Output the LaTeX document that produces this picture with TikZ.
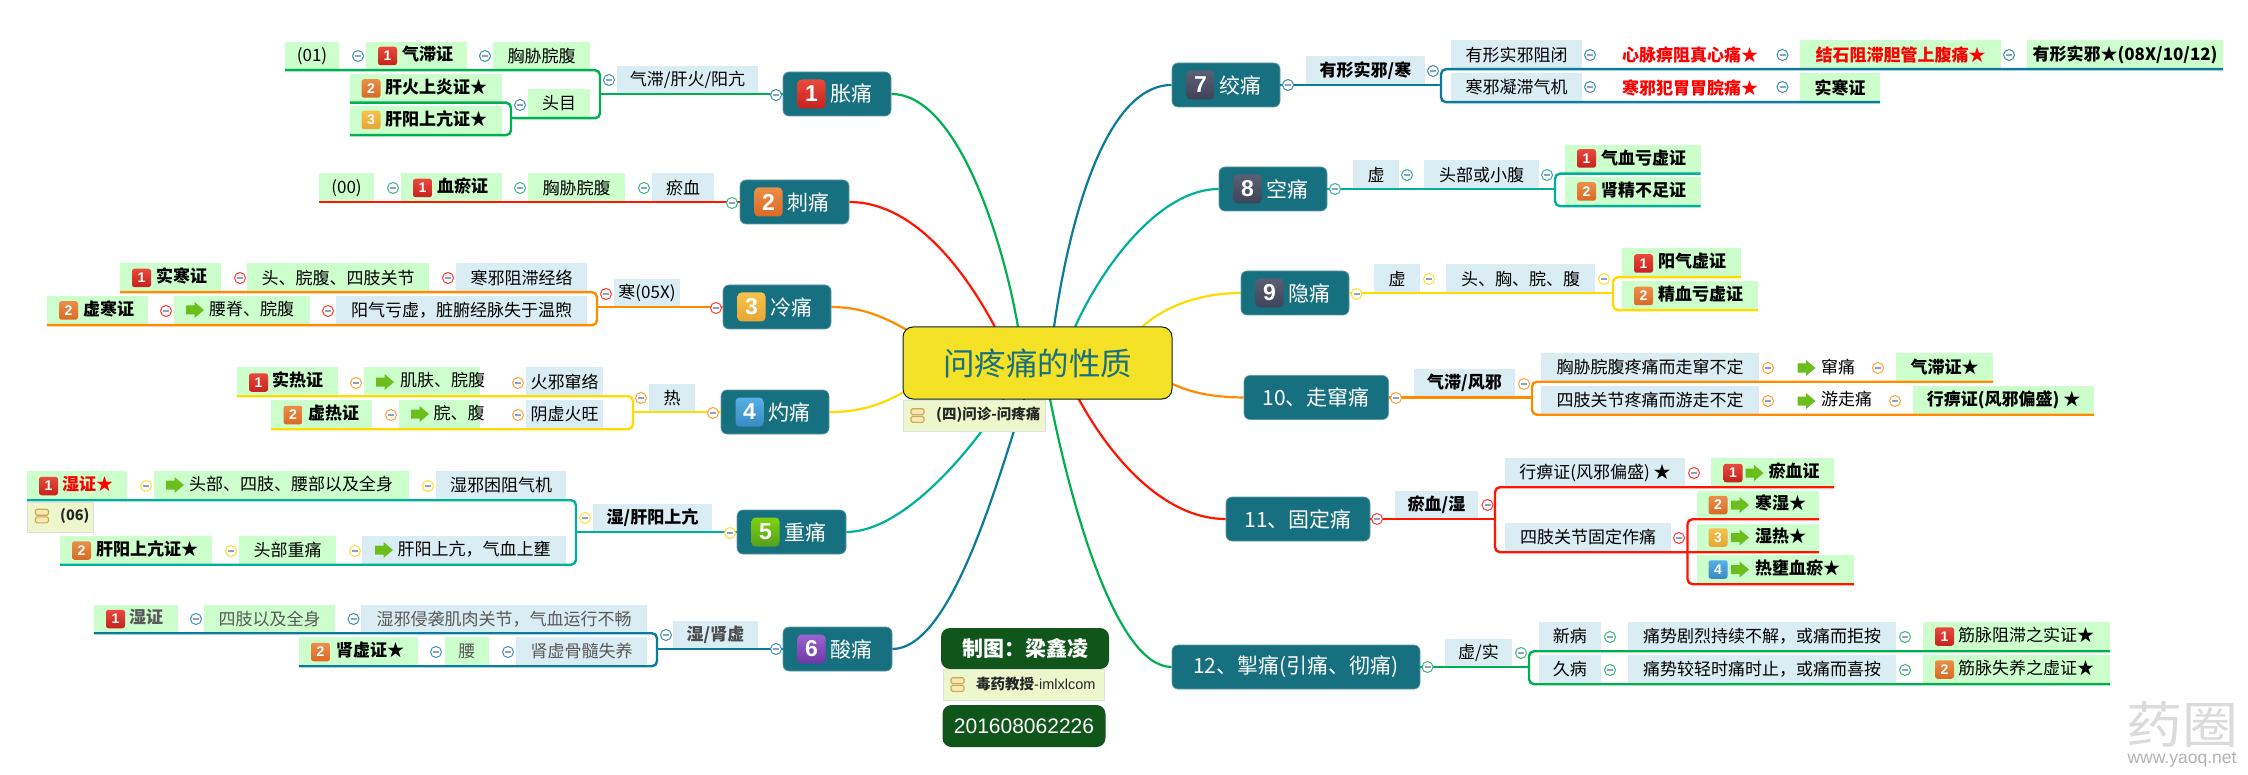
\documentclass[tikz,border=0pt]{standalone}
\usepackage{fontspec}
\setmainfont{Noto Sans CJK SC}
\newfontfamily\lib{Liberation Sans}
\definecolor{cGreen}{HTML}{00B050}
\definecolor{cRed}{HTML}{FF1500}
\definecolor{cOrange}{HTML}{FF8C00}
\definecolor{cYellow}{HTML}{FFDB00}
\definecolor{cTeal}{HTML}{00B09A}
\definecolor{cBlue}{HTML}{0A7C9A}
\definecolor{cTopic}{HTML}{17707F}
\definecolor{cDark}{HTML}{10561A}
\definecolor{cLeafG}{HTML}{CCFFCC}
\definecolor{cLeafB}{HTML}{DAEDF4}
\definecolor{cNote}{HTML}{EEF7CC}
\definecolor{cRoot}{HTML}{F5E125}
\definecolor{mGreen}{HTML}{35B878}
\definecolor{mRed}{HTML}{FF3B30}
\definecolor{mOrange}{HTML}{FFA030}
\definecolor{mYellow}{HTML}{FFDD30}
\definecolor{mTeal}{HTML}{30B0A0}
\definecolor{mBlue}{HTML}{3A8FAE}
\definecolor{tGray}{HTML}{595959}
\definecolor{iconFill}{HTML}{FBE7B0}
\definecolor{iconLine}{HTML}{C8A85A}
\definecolor{arrowGreen}{HTML}{6CBE1E}
\definecolor{minusBar}{HTML}{8FA0C4}
\definecolor{redA}{HTML}{E84A3C}\definecolor{redB}{HTML}{C8211E}
\definecolor{oraA}{HTML}{EB8E49}\definecolor{oraB}{HTML}{D96A26}
\definecolor{yelA}{HTML}{F4C24C}\definecolor{yelB}{HTML}{E9A633}
\definecolor{bluA}{HTML}{58AEE5}\definecolor{bluB}{HTML}{3A8AC4}
\definecolor{greA}{HTML}{7CD40C}\definecolor{greB}{HTML}{559E1F}
\definecolor{purA}{HTML}{9A63CF}\definecolor{purB}{HTML}{6F38A5}
\definecolor{graA}{HTML}{5B6074}\definecolor{graB}{HTML}{3F4358}
\pgfdeclarelayer{bg}
\pgfsetlayers{bg,main}
\newcommand{\lf}{\fontsize{17}{18}\selectfont}
\newcommand{\B}{\bfseries}
\tikzset{
  boxbase/.style={inner sep=0pt,font=\lf,text=black},
  lg/.style={fill=cLeafG},
  lb/.style={fill=cLeafB},
  ln/.style={},
  txt/.style={inner sep=0pt,font=\lf,text=black,anchor=west},
  br/.style={draw=#1,line width=2.4pt,rounded corners=5pt},
  curve/.style={draw=#1,line width=2.2pt},
  badge/.style n args={2}{rounded corners=2.5pt,inner sep=0pt,top color=#1,bottom color=#2,text=white,font=\lib\bfseries\fontsize{14}{14}\selectfont,minimum width=19pt,minimum height=18.5pt},
  bigbadge/.style n args={2}{rounded corners=4pt,inner sep=0pt,top color=#1,bottom color=#2,text=white,font=\lib\bfseries\fontsize{23}{23}\selectfont,minimum width=28pt,minimum height=29pt},
  b1/.style={badge={redA}{redB}},
  b2/.style={badge={oraA}{oraB}},
  b3/.style={badge={yelA}{yelB}},
  b4/.style={badge={bluA}{bluB}},
  B1/.style={bigbadge={redA}{redB}},
  B2/.style={bigbadge={oraA}{oraB}},
  B3/.style={bigbadge={yelA}{yelB}},
  B4/.style={bigbadge={bluA}{bluB}},
  B5/.style={bigbadge={greA}{greB}},
  B6/.style={bigbadge={purA}{purB}},
  B7/.style={bigbadge={graA}{graB}},
  topicbox/.style={fill=cTopic,draw=cTopic!70!white,line width=.6pt,rounded corners=6pt,inner sep=0pt,text=white,font=\fontsize{21}{23}\selectfont},
  darkbox/.style={fill=cDark,rounded corners=9pt,inner sep=0pt,text=white},
  notebox/.style={fill=cNote,draw=black!12,line width=.8pt,inner sep=0pt,text=black!85,font=\bfseries\fontsize{14.5}{16}\selectfont},
  nicon/.style={fill=iconFill,draw=iconLine,line width=1.1pt,rounded corners=1.5pt,minimum width=13pt,minimum height=6pt,inner sep=0pt},
  mncirc/.style={circle,fill=white,line width=1pt,minimum size=11pt,inner sep=0pt,
    path picture={\fill[minusBar] ([xshift=-3pt,yshift=-.7pt]path picture bounding box.center) rectangle ([xshift=3pt,yshift=.7pt]path picture bounding box.center);}},
}
\newcounter{mc}
% plain box with centred text: name x1 y1 x2 y2 style text
\newcommand{\bx}[7]{\node[boxbase,#6,minimum width={(#4-#2)*1pt},minimum height={(#5-#3)*1pt}] (#1) at ({(#2+#4)/2},{(#3+#5)/2}) {\raisebox{1.5pt}{#7}};}
% box with text at a given left edge: name x1 y1 x2 y2 style textleft text
\newcommand{\bxl}[8]{\node[boxbase,#6,minimum width={(#4-#2)*1pt},minimum height={(#5-#3)*1pt}] (#1) at ({(#2+#4)/2},{(#3+#5)/2}) {};
  \node[txt] (#1t) at (#7,{(#3+#5)/2-1.5}) {#8};}
% badge: name centre-x centre-y style number
\newcommand{\bdg}[5]{\node[#4] (#1) at (#2,#3) {#5};}
% block arrow icon: name left-x centre-y
\newcommand{\arr}[3]{\coordinate (#1) at (#2,#3);\fill[arrowGreen,shift={(#1)}] (0,-4.5) -- (8.5,-4.5) -- (8.5,-8) -- (18,0) -- (8.5,8) -- (8.5,4.5) -- (0,4.5) -- cycle;}
% collapse circle
\newcommand{\mn}[3]{\stepcounter{mc}\node[mncirc,draw=#3] (m\arabic{mc}) at (#1,#2) {};}
% bracket line
\newcommand{\brk}[6]{\draw[br=#1] (#2) -- (#3) -| (#4) |- (#5) -- (#6);}
% topic with a badge: name x1 y1 x2 y2 badgestyle number text
\newcommand{\tpb}[8]{\node[topicbox,minimum width={(#4-#2)*1pt},minimum height={(#5-#3)*1pt}] (#1) at ({(#2+#4)/2},{(#3+#5)/2}) {};
  \node[#6] (#1b) at ({#2+28.5},{(#3+#5)/2}) {#7};
  \node[anchor=west,inner sep=0pt,text=white,font=\fontsize{21}{23}\selectfont] (#1t) at ({#2+47.5},{(#3+#5)/2}) {#8};}
% topic with text alone
\newcommand{\tpc}[6]{\node[topicbox,minimum width={(#4-#2)*1pt},minimum height={(#5-#3)*1pt}] (#1) at ({(#2+#4)/2},{(#3+#5)/2}) {#6};}
% note icon: name centre-x centre-y
\newcommand{\nic}[3]{\node[nicon] (#1a) at (#2,{#3-3.8}) {};\node[nicon] (#1b) at (#2,{#3+3.8}) {};}
\begin{document}
\begin{tikzpicture}[x=1pt,y=-1pt]
\path[use as bounding box] (0,0) rectangle (2248,775);
\begin{pgfonlayer}{bg}
\fill[white] (0,0) rectangle (2248,775);
\end{pgfonlayer}

% ---------- root and notes ----------
\node[fill=cRoot,draw=black!70!cTopic,line width=1pt,rounded corners=10pt,minimum width=269pt,minimum height=72pt,inner sep=0pt,text=cTopic,font=\fontsize{31.5}{33}\selectfont] (root) at (1037.5,363) {问疼痛的性质};
\node[notebox,minimum width=142pt,minimum height=31pt,anchor=north west] (rootnote) at (903,400) {};
\nic{rn}{917.5}{415.5}
\node[anchor=west,inner sep=0pt,text=black!85,font=\bfseries\fontsize{14.5}{16}\selectfont] (rootnotet) at (936,415) {(四)问诊-问疼痛};

\node[darkbox,minimum width=168pt,minimum height=41pt,font=\bfseries\fontsize{21}{23}\selectfont] (author) at (1025,648.5) {制图：梁鑫凌};
\node[notebox,minimum width=161pt,minimum height=31pt,anchor=north west] (authornote) at (942.5,669) {};
\nic{an}{957.5}{684.5}
\node[anchor=west,inner sep=0pt,text=black!85,font=\fontsize{14.5}{16}\selectfont] (authornotet) at (976,684) {\bfseries 毒药教授{\lib\mdseries -imlxlcom}};
\node[darkbox,minimum width=163pt,minimum height=42pt,font=\lib\fontsize{21}{23}\selectfont] (stamp) at (1024,726) {201608062226};

% ---------- curves to the root ----------
\coordinate (r1) at (1018,327);\coordinate (r2) at (995,327);\coordinate (r3) at (915,335);
\coordinate (r4) at (915,385);\coordinate (r5) at (1004,399);\coordinate (r6) at (1024,399);
\coordinate (r7) at (1054,327);\coordinate (r8) at (1075,327);\coordinate (r9) at (1142,327);
\coordinate (r10) at (1160,378);\coordinate (r11) at (1075,392);\coordinate (r12) at (1050,399);

% ---------- 1 胀痛 ----------
\tpb{t1}{783}{72}{891}{116}{B1}{1}{胀痛}
\bx{a1}{285}{42}{339}{70}{lg}{(01)}
\bxl{a2}{366}{42}{467}{70}{lg}{402}{\B 气滞证}
\bdg{a2b}{387.5}{56}{b1}{1}
\bx{a3}{493}{42}{590}{70}{lg}{胸胁脘腹}
\bxl{a4}{350}{74}{502}{102.5}{lg}{385}{\B 肝火上炎证★}
\bdg{a4b}{371}{88.5}{b2}{2}
\bxl{a5}{350}{106}{502}{135}{lg}{385}{\B 肝阳上亢证★}
\bdg{a5b}{371}{120}{b3}{3}
\bx{a6}{528}{89}{590}{118}{lg}{头目}
\bx{a7}{617}{66}{758}{94}{lb}{气滞/肝火/阳亢}
\coordinate (j1) at (600,94);\coordinate (j1b) at (511,118);
\brk{cGreen}{a1.south west}{a3.south east}{j1}{a6.south east}{a6.south west}
\draw[br=cGreen] (j1b) -- (a6.south west);
\brk{cGreen}{a4.south west}{a4.south east}{j1b}{a5.south east}{a5.south west}
\draw[br=cGreen] (j1) -- (j1 -| t1.west);
\mn{358}{56}{mBlue}\mn{485}{56}{mBlue}\mn{520}{105}{mBlue}\mn{609}{80}{mBlue}\mn{776}{95}{mBlue}

% ---------- 2 刺痛 ----------
\tpb{t2}{740}{180}{849}{224}{B2}{2}{刺痛}
\bx{c1}{319}{173.5}{374}{202}{lg}{(00)}
\bxl{c2}{401}{173.5}{502}{202}{lg}{437}{\B 血瘀证}
\bdg{c2b}{422.5}{188}{b1}{1}
\bx{c3}{528}{173.5}{625}{202}{lg}{胸胁脘腹}
\bx{c4}{652}{173.5}{714}{202}{lb}{瘀血}
\draw[br=cRed] (c1.south west) -- (c4.south east) -- (c1.south west -| t2.west);
\mn{393}{188}{mGreen}\mn{520}{188}{mGreen}\mn{644}{188}{mGreen}\mn{732}{203}{mGreen}

% ---------- 3 冷痛 ----------
\tpb{t3}{723}{285}{831}{329}{B3}{3}{冷痛}
\bxl{d1}{120}{263.5}{221}{292}{lg}{156}{\B 实寒证}
\bdg{d1b}{141.5}{278}{b1}{1}
\bx{d2}{247}{263.5}{429}{292}{lg}{头、脘腹、四肢关节}
\bx{d3}{456}{263.5}{587}{292}{lb}{寒邪阻滞经络}
\bxl{d4}{47}{296}{148}{325}{lg}{83}{\B 虚寒证}
\bdg{d4b}{68.5}{310.5}{b2}{2}
\bxl{d5}{174}{296}{310}{325}{lg}{209}{腰脊、脘腹}
\arr{d5a}{186}{310}
\bx{d6}{336}{296}{587}{325}{lb}{阳气亏虚，脏腑经脉失于温煦}
\bx{d7}{614}{279}{680}{307}{lb}{寒(05X)}
\coordinate (j3) at (597,307);
\brk{cOrange}{d1.south west}{d3.south east}{j3}{d6.south east}{d4.south west}
\draw[br=cOrange] (j3) -- (j3 -| t3.west);
\mn{240}{278}{mRed}\mn{448}{278}{mRed}\mn{166}{311}{mRed}\mn{328}{311}{mRed}\mn{606}{294}{mRed}\mn{716}{308}{mRed}

% ---------- 4 灼痛 ----------
\tpb{t4}{721}{390}{829}{434}{B4}{4}{灼痛}
\bxl{e1}{237}{367.5}{338}{396}{lg}{272}{\B 实热证}
\bdg{e1b}{258.5}{382.5}{b1}{1}
\bxl{e2}{364}{367.5}{480}{396}{lg}{400}{肌肤、脘腹}
\arr{e2a}{376}{382}
\bx{e3}{526}{367.5}{603}{396}{lb}{火邪窜络}
\bxl{e4}{271}{400}{372}{429}{lg}{308}{\B 虚热证}
\bdg{e4b}{293}{415}{b2}{2}
\bxl{e5}{399}{400}{480}{429}{lg}{433.5}{脘、腹}
\arr{e5a}{411}{414}
\bx{e6}{526}{400}{603}{429}{lb}{阴虚火旺}
\bx{e7}{649}{383.5}{695}{412}{lb}{热}
\coordinate (j4) at (633,412);
\brk{cYellow}{e1.south west}{e3.south east}{j4}{e6.south east}{e4.south west}
\draw[br=cYellow] (j4) -- (j4 -| t4.west);
\mn{356}{383}{mOrange}\mn{518}{383}{mOrange}\mn{391}{415}{mOrange}\mn{518}{415}{mOrange}\mn{641}{398}{mOrange}\mn{713}{413}{mOrange}

% ---------- 5 重痛 ----------
\tpb{t5}{737}{510}{846}{554}{B5}{5}{重痛}
\bxl{f1}{27}{471}{127}{500}{lg}{62}{\B\color{red} 湿证★}
\bdg{f1b}{48.5}{486}{b1}{1}
\bxl{f2}{154}{471}{409}{500}{lg}{189}{头部、四肢、腰部以及全身}
\arr{f2a}{166}{485}
\bx{f3}{436}{471}{566}{500}{lb}{湿邪困阻气机}
\bxl{f4}{60}{536}{212}{564.5}{lg}{96}{\B 肝阳上亢证★}
\bdg{f4b}{81.5}{550.5}{b2}{2}
\bx{f5}{239}{536}{336}{564.5}{lg}{头部重痛}
\bxl{f6}{362}{536}{566}{564.5}{lb}{397.5}{肝阳上亢，气血上壅}
\arr{f6a}{375}{550}
\bx{f7}{593}{503.5}{712}{532}{lb}{\B 湿/肝阳上亢}
\coordinate (j5) at (576,532);
\brk{cTeal}{f1.south west}{f3.south east}{j5}{f6.south east}{f4.south west}
\draw[br=cTeal] (j5) -- (j5 -| t5.west);
\node[notebox,minimum width=66pt,minimum height=30pt,anchor=north west] (n6) at (27,502) {};
\nic{n6i}{42}{516}
\node[anchor=west,inner sep=0pt,text=black!85,font=\bfseries\fontsize{14.5}{16}\selectfont] (n6t) at (60,516) {(06)};
\mn{146}{486}{mYellow}\mn{428}{486}{mYellow}\mn{231}{551}{mYellow}\mn{355}{551}{mYellow}\mn{585}{518}{mYellow}\mn{730}{533}{mYellow}

% ---------- 6 酸痛 ----------
\tpb{t6}{783}{627}{892}{671}{B6}{6}{酸痛}
\bxl{g1}{94}{604.5}{178}{633}{lg}{129}{\B\color{tGray} 湿证}
\bdg{g1b}{115.5}{619}{b1}{1}
\bx{g2}{204}{604.5}{335}{633}{lg}{\color{tGray}四肢以及全身}
\bx{g3}{361}{604.5}{647}{633}{lb}{\color{tGray}湿邪侵袭肌肉关节，气血运行不畅}
\bxl{g4}{299}{637}{418}{666}{lg}{336}{\B 肾虚证★}
\bdg{g4b}{320.5}{652}{b2}{2}
\bx{g5}{444.5}{637}{489}{666}{lg}{\color{tGray}腰}
\bx{g6}{516}{637}{647}{666}{lb}{\color{tGray}肾虚骨髓失养}
\bx{g7}{673}{620.5}{758}{649}{lb}{\B\color{black!70} 湿/肾虚}
\coordinate (j6) at (657,649);
\brk{cBlue}{g1.south west}{g3.south east}{j6}{g6.south east}{g4.south west}
\draw[br=cBlue] (j6) -- (j6 -| t6.west);
\mn{196}{619}{mBlue}\mn{353.5}{619}{mBlue}\mn{436}{652}{mBlue}\mn{508}{652}{mBlue}\mn{666}{635}{mBlue}\mn{776}{649}{mBlue}

% ---------- 7 绞痛 ----------
\tpb{t7}{1172}{63}{1280}{107}{B7}{7}{绞痛}
\bx{h1}{1306}{56.5}{1425}{85}{lb}{\B 有形实邪/寒}
\bx{h2}{1451}{40.5}{1582}{69}{lb}{有形实邪阻闭}
\bx{h3}{1622}{40.5}{1758}{69}{ln}{\B\color{red}心脉痹阻真心痛★}
\bx{h4}{1800}{40.5}{2001}{69}{lg}{\B\color{red}结石阻滞胆管上腹痛★}
\bx{h5}{2027}{40.5}{2223}{69}{lg}{\B 有形实邪★(08X/10/12)}
\bx{h6}{1451}{73}{1582}{102}{lb}{寒邪凝滞气机}
\bx{h7}{1622}{73}{1758}{102}{ln}{\B\color{red}寒邪犯胃胃脘痛★}
\bx{h8}{1800}{73}{1880}{102}{lg}{\B 实寒证}
\coordinate (j7) at (1441,85);
\brk{cBlue}{h5.south east}{h2.south west}{j7}{h6.south west}{h8.south east}
\draw[br=cBlue] (j7) -- (j7 -| t7.east);
\mn{1590}{55}{mBlue}\mn{1782.5}{55}{mBlue}\mn{2009}{55}{mBlue}\mn{1590}{87}{mBlue}\mn{1782.5}{87}{mBlue}\mn{1433}{71}{mBlue}\mn{1288}{85}{mBlue}

% ---------- 8 空痛 ----------
\tpb{t8}{1219}{167}{1327}{211}{B7}{8}{空痛}
\bx{i1}{1353}{160.5}{1399}{189}{lb}{虚}
\bx{i2}{1424}{160.5}{1539}{189}{lb}{头部或小腹}
\bxl{i3}{1565}{145}{1700.5}{173.5}{lg}{1601}{\B 气血亏虚证}
\bdg{i3b}{1586.5}{158.5}{b1}{1}
\bxl{i4}{1565}{177}{1700.5}{206}{lg}{1601}{\B 肾精不足证}
\bdg{i4b}{1586.5}{191.5}{b2}{2}
\coordinate (j8) at (1555,189);
\brk{cTeal}{i3.south east}{i3.south west}{j8}{i4.south west}{i4.south east}
\draw[br=cTeal] (j8) -- (j8 -| t8.east);
\mn{1407}{175}{mTeal}\mn{1547}{175}{mTeal}\mn{1335}{189}{mTeal}

% ---------- 9 隐痛 ----------
\tpb{t9}{1241}{271}{1349}{315}{B7}{9}{隐痛}
\bx{k1}{1374}{264.5}{1420}{293}{lb}{虚}
\bx{k2}{1446}{264.5}{1595}{293}{lb}{头、胸、脘、腹}
\bxl{k3}{1622}{248.5}{1741}{277}{lg}{1658}{\B 阳气虚证}
\bdg{k3b}{1643.5}{263.5}{b1}{1}
\bxl{k4}{1622}{281}{1758}{310}{lg}{1658}{\B 精血亏虚证}
\bdg{k4b}{1643.5}{296}{b2}{2}
\coordinate (j9) at (1613,293);
\brk{cYellow}{k3.south east}{k3.south west}{j9}{k4.south west}{k4.south east}
\draw[br=cYellow] (j9) -- (j9 -| t9.east);
\mn{1429}{279}{mYellow}\mn{1604}{279}{mYellow}\mn{1356.5}{294}{mYellow}

% ---------- 10 走窜痛 ----------
\tpc{t10}{1244}{375.5}{1388.5}{419.5}{10、走窜痛}
\bx{p1}{1414}{369}{1515}{397.5}{lb}{\B 气滞/风邪}
\bx{p2}{1541}{353}{1759}{381.5}{lb}{胸胁脘腹疼痛而走窜不定}
\arr{p3a}{1797.5}{368}
\node[txt] (p3) at (1821,366.5) {窜痛};
\bx{p4}{1896}{353}{1993}{381.5}{lg}{\B 气滞证★}
\bx{p5}{1541}{386}{1759}{414.5}{lb}{四肢关节疼痛而游走不定}
\arr{p6a}{1797.5}{401}
\node[txt] (p6) at (1821,399.5) {游走痛};
\bx{p7}{1913}{386}{2094}{414.5}{lg}{\B 行痹证(风邪偏盛) ★}
\coordinate (j10) at (1532,397.5);
\brk{cOrange}{p4.south east}{p2.south west}{j10}{p5.south west}{p7.south east}
\draw[br=cOrange] (j10) -- (j10 -| t10.east);
\mn{1768}{368}{mOrange}\mn{1878}{368}{mOrange}\mn{1768}{401}{mOrange}\mn{1895}{401}{mOrange}\mn{1524}{384}{mOrange}\mn{1396}{398}{mOrange}

% ---------- 11 固定痛 ----------
\tpc{t11}{1226}{497}{1370}{541}{11、固定痛}
\bx{q1}{1395}{490.5}{1478}{519}{lb}{\B 瘀血/湿}
\bx{q2}{1505}{458}{1685}{487}{lb}{行痹证(风邪偏盛) ★}
\bxl{q3}{1711}{458}{1834}{487}{lg}{1768.5}{\B 瘀血证}
\bdg{q3b}{1733}{473}{b1}{1}
\arr{q3a}{1745.5}{473}
\bx{q4}{1505}{523}{1671}{552}{lb}{四肢关节固定作痛}
\bxl{q5}{1697}{490.5}{1819}{519}{lg}{1755}{\B 寒湿★}
\bdg{q5b}{1718}{505}{b2}{2}
\arr{q5a}{1731}{505}
\bxl{q6}{1697}{523.5}{1819}{552}{lg}{1755}{\B 湿热★}
\bdg{q6b}{1718}{537.5}{b3}{3}
\arr{q6a}{1731}{537.5}
\bxl{q7}{1697}{555}{1854}{584}{lg}{1755}{\B 热壅血瘀★}
\bdg{q7b}{1718}{569.5}{b4}{4}
\arr{q7a}{1731}{569.5}
\coordinate (j11) at (1495,519);\coordinate (j11b) at (1687.5,552);
\brk{cRed}{q3.south east}{q2.south west}{j11}{q4.south west}{q6.south east}
\brk{cRed}{q5.south east}{q5.south west}{j11b}{q7.south west}{q7.south east}
\draw[br=cRed] (j11) -- (j11 -| t11.east);
\mn{1694}{473}{mRed}\mn{1679}{538}{mRed}\mn{1487.5}{505}{mRed}\mn{1377}{519}{mRed}

% ---------- 12 ----------
\tpc{t12}{1172}{645}{1420}{689}{12、掣痛(引痛、彻痛)}
\bx{s1}{1445}{638.5}{1512}{667}{lb}{虚/实}
\bx{s2}{1538.5}{622}{1601}{651}{lb}{新病}
\bx{s3}{1628}{622}{1896}{651}{lb}{痛势剧烈持续不解，或痛而拒按}
\bxl{s4}{1923}{622}{2110}{651}{lg}{1958}{筋脉阻滞之实证★}
\bdg{s4b}{1944.5}{636.5}{b1}{1}
\bx{s5}{1538.5}{655}{1601}{684}{lb}{久病}
\bx{s6}{1628}{655}{1896}{684}{lb}{痛势较轻时痛时止，或痛而喜按}
\bxl{s7}{1923}{655}{2110}{684}{lg}{1958}{筋脉失养之虚证★}
\bdg{s7b}{1944.5}{669.5}{b2}{2}
\coordinate (j12) at (1529,667);
\brk{cGreen}{s4.south east}{s2.south west}{j12}{s5.south west}{s7.south east}
\draw[br=cGreen] (j12) -- (j12 -| t12.east);
\mn{1610}{637}{mGreen}\mn{1905}{637}{mGreen}\mn{1610}{670}{mGreen}\mn{1905}{670}{mGreen}\mn{1521}{653}{mGreen}\mn{1427.5}{667}{mGreen}

% ---------- curves behind everything ----------
\begin{pgfonlayer}{bg}
\draw[curve=cGreen] (t1.east) .. controls (960,94) and (1005,250) .. (r1);
\draw[curve=cRed] (t2.east) .. controls (910,202) and (960,262) .. (r2);
\draw[curve=cOrange] (t3.east) .. controls (860,307) and (885,316) .. (r3);
\draw[curve=cYellow] (t4.east) .. controls (860,412) and (885,405) .. (r4);
\draw[curve=cTeal] (t5.east) .. controls (900,532) and (965,460) .. (r5);
\draw[curve=cBlue] (t6.east) .. controls (950,649) and (995,490) .. (r6);
\draw[curve=cBlue] (t7.west) .. controls (1105,85) and (1069,222) .. (r7);
\draw[curve=cTeal] (t8.west) .. controls (1160,189) and (1103,265) .. (r8);
\draw[curve=cYellow] (t9.west) .. controls (1195,293) and (1160,310) .. (r9);
\draw[curve=cOrange] (t10.west) .. controls (1205,397) and (1185,391) .. (r10);
\draw[curve=cRed] (t11.west) .. controls (1160,519) and (1105,450) .. (r11);
\draw[curve=cGreen] (t12.west) .. controls (1115,667) and (1070,500) .. (r12);
\end{pgfonlayer}

% ---------- watermark ----------
\node[inner sep=0pt,text=black!14,font=\fontsize{50}{50}\selectfont,xscale=1.12,transform shape] (wm) at (2182,724) {药圈};
\node[inner sep=0pt,text=black!30,font=\lib\fontsize{17.5}{18}\selectfont] (wmurl) at (2182,760) {www.yaoq.net};
\end{tikzpicture}
\end{document}
